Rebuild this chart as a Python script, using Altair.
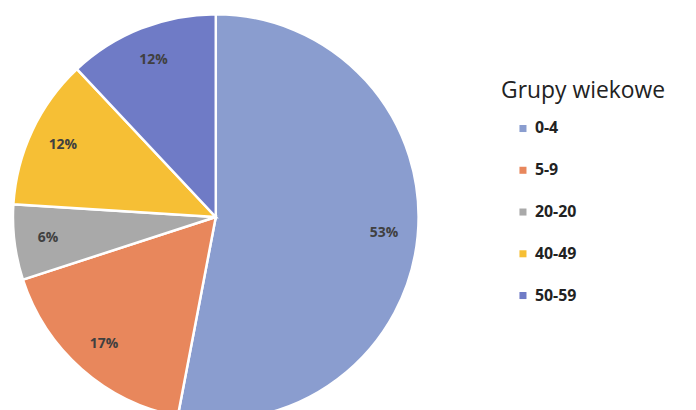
import altair as alt
import pandas as pd

groups = ["0-4", "5-9", "20-20", "40-49", "50-59"]
shares = [53, 17, 6, 12, 12]
labels = ["53%", "17%", "6%", "12%", "12%"]
colors = ["#8a9dcf", "#e8875c", "#a9a9a9", "#f6bf35", "#6f7bc6"]

df = pd.DataFrame({"group": groups, "share": shares, "label": labels, "idx": list(range(len(groups)))})

cx, cy, r = 205, 204, 204

base = alt.Chart(df).encode(
    theta=alt.Theta("share:Q", stack=True),
    order=alt.Order("idx:Q"),
)

pie = base.mark_arc(stroke="white", strokeWidth=2.5, radius=r).encode(
    x=alt.value(cx), y=alt.value(cy),
    color=alt.Color(
        "group:N",
        scale=alt.Scale(domain=groups, range=colors),
        sort=groups,
        legend=alt.Legend(
            title="Grupy wiekowe", orient="none", legendX=492, legendY=66,
            titleFont="Open Sans", titleFontSize=23, titleFontWeight="normal", titleColor="#222222",
            titlePadding=18,
            labelFont="Open Sans", labelFontSize=16, labelFontWeight="bold", labelColor="#222222",
            symbolType="square", symbolSize=50, symbolStrokeWidth=0, rowPadding=26, labelOffset=4,
            symbolOffset=14,
            padding=0, offset=0,
        ),
    ),
)

text = base.mark_text(radius=170, font="Open Sans", fontSize=14, fontWeight="bold", color="#404040").encode(
    x=alt.value(cx), y=alt.value(cy), text="label:N"
)

chart = (pie + text).properties(width=680, height=394, padding=0).configure_view(stroke=None)

chart.save("out.html", embed_options={"renderer": "svg", "actions": False})
